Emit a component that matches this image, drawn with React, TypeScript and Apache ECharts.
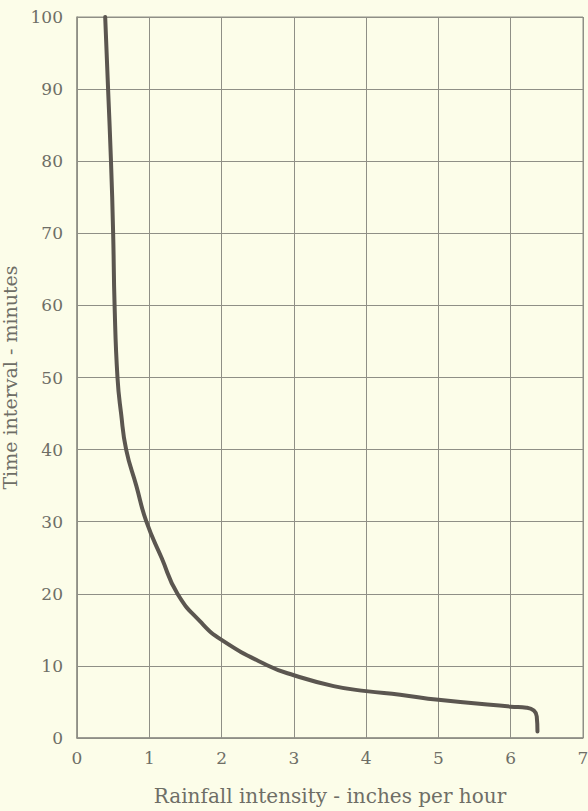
import React, { useEffect, useRef } from "react";
import * as echarts from "echarts";

const intensity = [0.39, 0.43, 0.47, 0.5, 0.52, 0.56, 0.61, 0.68, 0.82, 0.96, 1.17, 1.39, 1.7, 2.0, 2.63, 3.0, 3.55, 4.0, 4.47, 5.0, 6.0, 6.22, 6.32, 6.36, 6.37];
const minutes = [100, 90, 80, 70, 60, 50, 45, 40, 35, 30, 25, 20, 16.2, 13.6, 10.1, 8.7, 7.2, 6.5, 6.0, 5.3, 4.35, 4.2, 3.8, 3.0, 0.9];

const xTitle = "Rainfall intensity - inches per hour";
const yTitle = "Time interval - minutes";

export default function App() {
  const ref = useRef<HTMLDivElement>(null);
  useEffect(() => {
    if (!ref.current) return;
    const chart = echarts.init(ref.current, undefined, { renderer: "svg" });
    const font = "'DejaVu Serif', 'Liberation Serif', serif";
    const textColor = "#6e6e66";
    const gridColor = "#8f8f86";
    chart.setOption({
      animation: false,
      backgroundColor: "#fcfde9",
      grid: {
        left: 77,
        right: 5,
        top: 17,
        bottom: 73,
        containLabel: false,
        outerBoundsMode: "none",
        show: true,
        borderColor: gridColor,
        borderWidth: 1,
      },
      xAxis: {
        type: "value",
        min: 0,
        max: 7,
        interval: 1,
        name: xTitle,
        nameLocation: "middle",
        nameGap: 48,
        nameTextStyle: { fontFamily: font, fontSize: 20, color: textColor },
        axisLine: { show: true, lineStyle: { color: gridColor, width: 1.5 } },
        axisTick: { show: false },
        axisLabel: { fontFamily: font, fontSize: 17, color: textColor, margin: 11 },
        splitLine: { show: true, lineStyle: { color: gridColor, width: 1 } },
      },
      yAxis: {
        type: "value",
        min: 0,
        max: 100,
        interval: 10,
        name: yTitle,
        nameLocation: "middle",
        nameGap: 48,
        nameTextStyle: { fontFamily: font, fontSize: 19, color: textColor },
        axisLine: { show: true, lineStyle: { color: gridColor, width: 1.5 } },
        axisTick: { show: false },
        axisLabel: { fontFamily: font, fontSize: 17, color: textColor, margin: 14 },
        splitLine: { show: true, lineStyle: { color: gridColor, width: 1 } },
      },
      series: [
        {
          type: "line",
          data: intensity.map((x, i) => [x, minutes[i]]),
          smooth: 0.5,
          showSymbol: false,
          lineStyle: { color: "#5b5650", width: 4, cap: "round", join: "round" },
        },
      ],
    });
    return () => chart.dispose();
  }, []);
  return (
    <div style={{ position: "absolute", left: 0, top: 0, width: 588, height: 811, background: "#fcfde9" }}>
      <div ref={ref} style={{ width: 588, height: 811 }} />
    </div>
  );
}
